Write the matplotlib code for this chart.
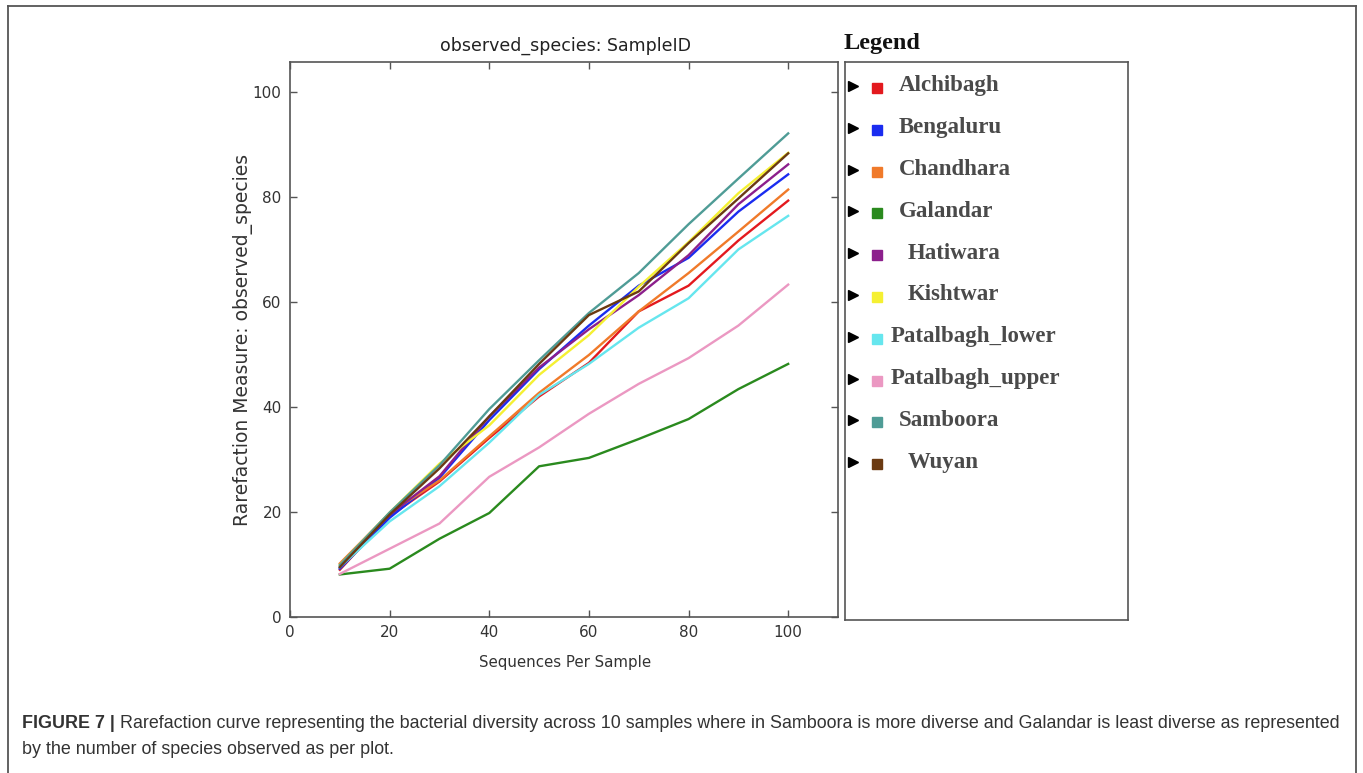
import matplotlib.pyplot as plt
from matplotlib.lines import Line2D

# sequences per sample (rarefaction depth)
depth = [10, 20, 30, 40, 50, 60, 70, 80, 90, 100]

samples = ['Alchibagh', 'Bengaluru', 'Chandhara', 'Galandar', 'Hatiwara',
           'Kishtwar', 'Patalbagh_lower', 'Patalbagh_upper', 'Samboora', 'Wuyan']

alchibagh = [9.0, 19.2, 25.8, 34.1, 42.0, 48.4, 58.2, 63.1, 71.7, 79.3]
bengaluru = [9.2, 18.9, 26.5, 37.5, 47.2, 55.5, 63.1, 68.4, 77.2, 84.3]
chandhara = [10.2, 19.8, 26.0, 34.4, 42.7, 49.9, 58.2, 65.5, 73.4, 81.4]
galandar = [8.1, 9.2, 14.9, 19.8, 28.7, 30.3, 33.9, 37.7, 43.4, 48.2]
hatiwara = [9.5, 19.5, 26.8, 38.2, 47.5, 54.8, 61.3, 68.9, 78.6, 86.2]
kishtwar = [9.9, 19.9, 29.2, 36.5, 46.1, 53.7, 62.9, 71.4, 80.7, 88.4]
patalbagh_lower = [9.5, 18.2, 24.9, 33.2, 42.3, 48.2, 55.1, 60.7, 70.0, 76.4]
patalbagh_upper = [8.2, 13.0, 17.8, 26.7, 32.3, 38.7, 44.4, 49.3, 55.5, 63.3]
samboora = [9.9, 19.9, 28.9, 39.6, 48.9, 57.9, 65.5, 74.8, 83.5, 92.1]
wuyan = [9.5, 19.5, 28.3, 38.2, 48.2, 57.5, 62.0, 71.2, 79.7, 88.3]

series = [alchibagh, bengaluru, chandhara, galandar, hatiwara,
          kishtwar, patalbagh_lower, patalbagh_upper, samboora, wuyan]

colors = ['#e3191e', '#1a2cf0', '#f07a2a', '#2a8a1e', '#8c1f8c',
          '#f5f032', '#66e6ee', '#eb98c2', '#4f9c96', '#6b3a12']

xticks = [0, 20, 40, 60, 80, 100]
yticks = [0, 20, 40, 60, 80, 100]

caption_bold = 'FIGURE 7 |'
caption_1 = (' Rarefaction curve representing the bacterial diversity across 10 samples where in '
             'Samboora is more diverse and Galandar is least diverse as represented')
caption_2 = 'by the number of species observed as per plot.'

W, H = 1363, 773
fig = plt.figure(figsize=(W / 100, H / 100), dpi=100)


def box(l, t, r, b):
    return [l / W, 1 - b / H, (r - l) / W, (b - t) / H]


def px(x, y):
    return x / W, 1 - y / H


# outer frame of the figure panel
frame = '#555555'
fig.add_artist(Line2D([7.5 / W, 7.5 / W], [0, 1 - 6 / H], color=frame, lw=1.3))
fig.add_artist(Line2D([1356 / W, 1356 / W], [0, 1 - 6 / H], color=frame, lw=1.3))
fig.add_artist(Line2D([7.5 / W, 1356 / W], [1 - 6 / H, 1 - 6 / H], color=frame, lw=1.3))

# main plot
ax = fig.add_axes(box(290, 62, 838, 617))
for vals, c in zip(series, colors):
    ax.plot(depth, vals, color=c, lw=1.7)
ax.set_xlim(0, 110)
ax.set_ylim(0, 105.7)
ax.set_xticks(xticks)
ax.set_yticks(yticks)
ax.tick_params(direction='in', top=True, right=True, length=5, width=1,
               color='#555555', labelcolor='#333333', labelsize=11, pad=6)
for s in ax.spines.values():
    s.set_color('#555555')
    s.set_linewidth(1.2)

fig.text(*px(565, 46), 'observed_species: SampleID', ha='center', va='center',
         fontsize=12.5, color='#222222')
fig.text(*px(565, 662), 'Sequences Per Sample', ha='center', va='center',
         fontsize=10.8, color='#333333')
fig.text(*px(243, 340), 'Rarefaction Measure: observed_species', ha='center',
         va='center', rotation=90, fontsize=13.5, color='#333333')

# legend panel
lg = fig.add_axes(box(845, 62, 1128, 620))
lg.set_xlim(845, 1128)
lg.set_ylim(620, 62)
lg.set_xticks([])
lg.set_yticks([])
for s in lg.spines.values():
    s.set_color('#555555')
    s.set_linewidth(1.2)
fig.text(*px(844, 43), 'Legend', ha='left', va='center', family='Liberation Serif',
         fontweight='bold', fontsize=17.5, color='#111111')

indent = [0, 0, 0, 0, 9, 9, -8, -8, 0, 9]
for i, (name, c) in enumerate(zip(samples, colors)):
    y = 86 + i * 41.8
    lg.plot(853, y, marker='>', color='black', markersize=7.5, clip_on=False)
    lg.plot(877, y + 2, marker='s', color=c, markersize=7.5, clip_on=False)
    lg.text(899 + indent[i], y, name, ha='left', va='center', family='Liberation Serif',
            fontweight='bold', fontsize=16.5, color='#4a4a4a')

# caption
cap_font = 'Liberation Sans'
t1 = fig.text(*px(22, 723), caption_bold, ha='left', va='center', family=cap_font,
              fontweight='bold', fontsize=12.9, color='#333333')
r = fig.canvas.get_renderer()
bb = t1.get_window_extent(r)
fig.text(bb.x1 / W, 1 - 723 / H, caption_1, ha='left', va='center', family=cap_font,
         fontsize=12.9, color='#333333')
fig.text(*px(22, 750), caption_2, ha='left', va='center', family=cap_font,
         fontsize=12.9, color='#333333')

fig.savefig('out.png', dpi=100)
